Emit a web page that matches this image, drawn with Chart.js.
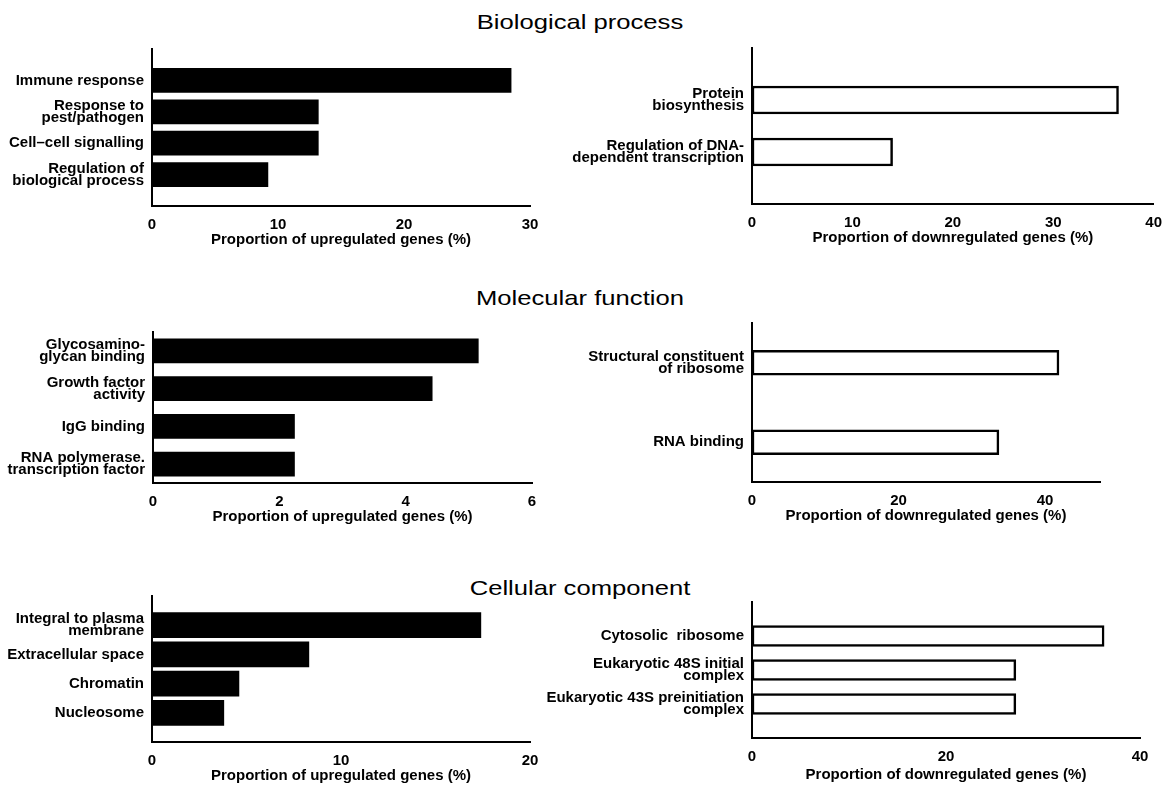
<!DOCTYPE html>
<html>
<head>
<meta charset="utf-8">
<title>GO categories of up- and downregulated genes</title>
<script src="https://cdn.jsdelivr.net/npm/chart.js@4.4.1/dist/chart.umd.min.js"></script>
<style>
  html, body { margin: 0; padding: 0; background: #fff; }
  body { width: 1173px; height: 790px; position: relative; overflow: hidden; font-family: "Liberation Sans", Arial, sans-serif; }
  .section-title { position: absolute; left: 380px; width: 400px; text-align: center; font-size: 21px; line-height: 24px; color: #000; transform: scaleX(1.22); }
  .panel { position: absolute; }
</style>
</head>
<body>
<div class="section-title" style="top:10px">Biological process</div>
<div class="section-title" style="top:286px">Molecular function</div>
<div class="section-title" style="top:576px">Cellular component</div>

<div class="panel" style="left:0;top:35px;width:550px;height:216px"><canvas id="bpUpChart"></canvas></div>
<div class="panel" style="left:500px;top:34px;width:672px;height:215px"><canvas id="bpDownChart"></canvas></div>
<div class="panel" style="left:0;top:312px;width:552px;height:216px"><canvas id="mfUpChart"></canvas></div>
<div class="panel" style="left:500px;top:309px;width:620px;height:218px"><canvas id="mfDownChart"></canvas></div>
<div class="panel" style="left:0;top:582px;width:550px;height:205px"><canvas id="ccUpChart"></canvas></div>
<div class="panel" style="left:500px;top:588px;width:660px;height:198px"><canvas id="ccDownChart"></canvas></div>

<script>
// Biological process
const bpUpLabels = ['Immune response', ['Response to', 'pest/pathogen'], 'Cell\u2013cell signalling', ['Regulation of', 'biological process']];
const bpUpValues = [28.5, 13.2, 13.2, 9.2];
const bpUpTicks = [0, 10, 20, 30];

const bpDownLabels = [['Protein', 'biosynthesis'], ['Regulation of DNA-', 'dependent transcription']];
const bpDownValues = [36.5, 14.0];
const bpDownTicks = [0, 10, 20, 30, 40];

// Molecular function
const mfUpLabels = [['Glycosamino-', 'glycan binding'], ['Growth factor', 'activity'], 'IgG binding', ['RNA polymerase.', 'transcription factor']];
const mfUpValues = [5.15, 4.42, 2.24, 2.24];
const mfUpTicks = [0, 2, 4, 6];

const mfDownLabels = [['Structural constituent', 'of ribosome'], 'RNA binding'];
const mfDownValues = [41.9, 33.7];
const mfDownTicks = [0, 20, 40];
const mfDownAxisEnd = 47.5;

// Cellular component
const ccUpLabels = [['Integral to plasma', 'membrane'], 'Extracellular space', 'Chromatin', 'Nucleosome'];
const ccUpValues = [17.4, 8.3, 4.6, 3.8];
const ccUpTicks = [0, 10, 20];

const ccDownLabels = ['Cytosolic  ribosome', ['Eukaryotic 48S initial', 'complex'], ['Eukaryotic 43S preinitiation', 'complex']];
const ccDownValues = [36.3, 27.2, 27.2];
const ccDownTicks = [0, 20, 40];

const UP_TITLE = 'Proportion of upregulated genes (%)';
const DOWN_TITLE = 'Proportion of downregulated genes (%)';

Chart.defaults.font.family = '"Liberation Sans", Arial, sans-serif';
Chart.defaults.color = '#000';

// blank category at both ends so the bars sit where they do in the figure
function pad(list, blank) {
    return [blank, ...list, blank];
}

function makePanel(id, labels, values, ticks, opts) {
    const step = ticks[1] - ticks[0];
    return new Chart(document.getElementById(id), {
        type: 'bar',
        data: {
            labels: labels,
            datasets: [{
                data: values,
                backgroundColor: opts.filled ? '#000' : '#fff',
                borderColor: '#000',
                borderWidth: opts.filled ? 0 : 2.5,
                borderSkipped: false,
                barThickness: opts.thickness
            }]
        },
        options: {
            indexAxis: 'y',
            responsive: true,
            maintainAspectRatio: false,
            animation: false,
            layout: { padding: { top: 10, right: opts.padRight, bottom: 0, left: 0 } },
            plugins: { legend: { display: false }, tooltip: { enabled: false } },
            scales: {
                x: {
                    min: 0,
                    max: opts.axisEnd !== undefined ? opts.axisEnd : ticks[ticks.length - 1],
                    grid: { display: false, drawTicks: false },
                    border: { display: true, color: '#000', width: 2 },
                    ticks: {
                        stepSize: step,
                        includeBounds: false,
                        padding: 10,
                        color: '#000',
                        font: { size: 15, weight: 'bold' }
                    },
                    title: {
                        display: true,
                        text: opts.title,
                        color: '#000',
                        font: { size: 15, weight: 'bold', lineHeight: 1.1 },
                        padding: { top: 0, bottom: 3 }
                    },
                    afterFit: function (scale) { scale.height = opts.xHeight || 45; }
                },
                y: {
                    offset: opts.offset,
                    grid: { display: false, drawTicks: false },
                    border: { display: true, color: '#000', width: 2 },
                    ticks: {
                        autoSkip: false,
                        padding: 8,
                        color: '#000',
                        font: { size: 15, weight: 'bold', lineHeight: 0.8 }
                    },
                    afterFit: function (scale) { scale.width = opts.yWidth; }
                }
            }
        }
    });
}

document.addEventListener('DOMContentLoaded', function () {
    // Biological process
    const bpUpChart = makePanel('bpUpChart', pad(bpUpLabels, ''), pad(bpUpValues, null), bpUpTicks,
        { filled: true, thickness: 24, offset: false, yWidth: 152, padRight: 20, title: UP_TITLE });
    const bpDownChart = makePanel('bpDownChart', pad(bpDownLabels, ''), pad(bpDownValues, null), bpDownTicks,
        { filled: false, thickness: 28, offset: false, yWidth: 252, padRight: 12, title: DOWN_TITLE });

    // Molecular function
    const mfUpChart = makePanel('mfUpChart', mfUpLabels, mfUpValues, mfUpTicks,
        { filled: true, thickness: 24, offset: true, yWidth: 153, padRight: 20, title: UP_TITLE });
    const mfDownChart = makePanel('mfDownChart', mfDownLabels, mfDownValues, mfDownTicks,
        { filled: false, thickness: 25, offset: true, yWidth: 252, padRight: 20, axisEnd: mfDownAxisEnd, title: DOWN_TITLE });

    // Cellular component
    const ccUpChart = makePanel('ccUpChart', pad(ccUpLabels, ''), pad(ccUpValues, null), ccUpTicks,
        { filled: true, thickness: 25, offset: false, yWidth: 152, padRight: 20, title: UP_TITLE });
    const ccDownChart = makePanel('ccDownChart', pad(ccDownLabels, ''), pad(ccDownValues, null), ccDownTicks,
        { filled: false, thickness: 21, offset: false, yWidth: 252, padRight: 20, xHeight: 48, title: DOWN_TITLE });
});
</script>
</body>
</html>
